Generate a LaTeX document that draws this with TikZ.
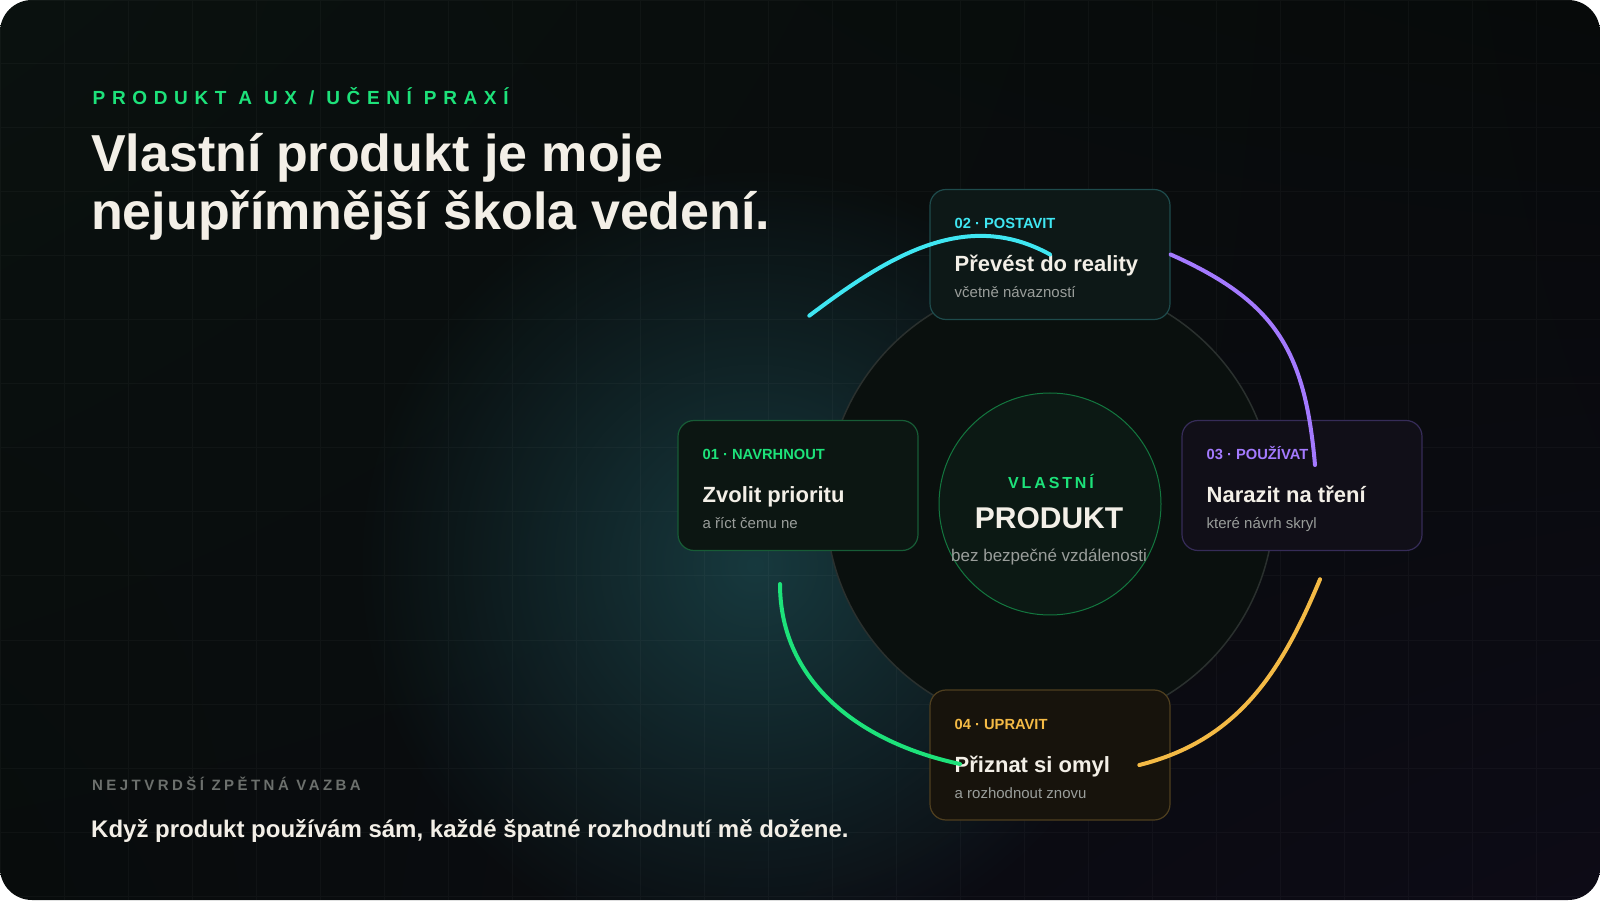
\documentclass[tikz,border=0pt]{standalone}
\usepackage{fontspec}
\setmainfont{Liberation Sans}
\newfontfamily\kickerfont{Liberation Sans}[LetterSpace=35]
\newfontfamily\footkickfont{Liberation Sans}[LetterSpace=23]
\newfontfamily\corekickfont{Liberation Sans}[LetterSpace=18]
\usetikzlibrary{fadings,shadings}

\definecolor{bgtl}{HTML}{0A110F}
\definecolor{bgtr}{HTML}{070A0A}
\definecolor{bgbl}{HTML}{080C0C}
\definecolor{bgbr}{HTML}{0D0B16}
\definecolor{glowc}{HTML}{17393E}
\definecolor{ringfill}{HTML}{0A100E}
\definecolor{ringline}{HTML}{2A302E}
\definecolor{corefill}{HTML}{0C1914}
\definecolor{coreline}{HTML}{13773F}
\definecolor{mint}{HTML}{1DE27A}
\definecolor{aqua}{HTML}{3FE6F2}
\definecolor{lilac}{HTML}{A47AFF}
\definecolor{amber}{HTML}{F4BA45}
\definecolor{cream}{HTML}{F3EFE7}
\definecolor{mute}{HTML}{9A9E9B}
\definecolor{dim}{HTML}{6C706D}
\definecolor{navfill}{HTML}{0C1612}
\definecolor{navline}{HTML}{175C36}
\definecolor{posfill}{HTML}{0D1817}
\definecolor{posline}{HTML}{1E4B4C}
\definecolor{poufill}{HTML}{110F18}
\definecolor{pouline}{HTML}{362C58}
\definecolor{uprfill}{HTML}{17130C}
\definecolor{uprline}{HTML}{4F3F1F}

\tikzfading[name=glowfade, inner color=transparent!0, outer color=transparent!100]

\tikzset{
  txt/.style={inner sep=0, anchor=base west},
  card/.style={draw, rounded corners=16, line width=1.2, minimum width=240, minimum height=130, inner sep=0},
  tag/.style={txt, font=\fontsize{14.7}{17}\selectfont\bfseries},
  head/.style={txt, text=cream, font=\fontsize{22}{26}\selectfont\bfseries},
  sub/.style={txt, text=mute, font=\fontsize{15}{18}\selectfont},
  swoop/.style={line width=4, line cap=round},
  gridline/.style={white, opacity=0.03, line width=1}
}

\begin{document}
\begin{tikzpicture}[x=1pt,y=1pt]
\useasboundingbox (0,0) rectangle (1600,900);

% backdrop
\begin{scope}
\clip[rounded corners=32] (0,0) rectangle (1600,900);
\shade[upper left=bgtl, upper right=bgtr, lower left=bgbl, lower right=bgbr] (0,0) rectangle (1600,900);
\fill[glowc, path fading=glowfade] (755,335) circle (400);
\draw[gridline, step=64, yshift=4] (0,-4) grid (1600,896);
\end{scope}

% left texts
\node [txt, text=mint, font=\kickerfont\fontsize{19}{22}\selectfont\bfseries] (kick) at (92.5,795.7) {PRODUKT A UX / UČENÍ PRAXÍ};
\node [txt, text=cream, font=\fontsize{52}{57}\selectfont\bfseries] (t1) at (91,728.3) {Vlastní produkt je moje};
\node [txt, text=cream, font=\fontsize{52}{57}\selectfont\bfseries] (t2) at (91,670) {nejupřímnější škola vedení.};
\node [txt, text=dim, font=\footkickfont\fontsize{15}{18}\selectfont\bfseries] (fk) at (92,110) {NEJTVRDŠÍ ZPĚTNÁ VAZBA};
\node [txt, text=cream, font=\fontsize{24}{28}\selectfont\bfseries] (ft) at (91,63) {Když produkt používám sám, každé špatné rozhodnutí mě dožene.};

% rings
\node [circle, draw=ringline, fill=ringfill, line width=1.5, minimum size=448, inner sep=0] (ring) at (1050,396) {};
\node [circle, draw=coreline, fill=corefill, line width=1, minimum size=222, inner sep=0] (core) at (1050,396) {};

\node [inner sep=0, anchor=base, text=mint, font=\corekickfont\fontsize{16}{19}\selectfont\bfseries] (corek) at (1051,411.7) {VLASTNÍ};
\node [inner sep=0, anchor=base, text=cream, font=\fontsize{30}{34}\selectfont\bfseries] (coreb) at (1049,371.7) {PRODUKT};
\node [inner sep=0, anchor=base, text=mute, font=\fontsize{17}{20}\selectfont] (cores) at (1049,338.3) {bez bezpečné vzdálenosti};

% cards
\node [card, draw=navline, fill=navfill] (nav) at (798,414.5) {};
\node [card, draw=posline, fill=posfill] (pos) at (1050,645.5) {};
\node [card, draw=pouline, fill=poufill] (pou) at (1302,414.5) {};
\node [card, draw=uprline, fill=uprfill] (upr) at (1050,145) {};

\node [tag, text=mint] (navtag) at (702.5,440.2) {01 · NAVRHNOUT};
\node [head] (navhead) at (702.5,397.5) {Zvolit prioritu};
\node [sub] (navsub) at (702.5,371.2) {a říct čemu ne};

\node [tag, text=aqua] (postag) at (954.5,671.2) {02 · POSTAVIT};
\node [head] (poshead) at (954.5,628.5) {Převést do reality};
\node [sub] (possub) at (954.5,602.2) {včetně návazností};

\node [tag, text=lilac] (poutag) at (1206.5,440.2) {03 · POUŽÍVAT};
\node [head] (pouhead) at (1206.5,397.5) {Narazit na tření};
\node [sub] (pousub) at (1206.5,371.2) {které návrh skryl};

\node [tag, text=amber] (uprtag) at (954.5,170.7) {04 · UPRAVIT};
\node [head] (uprhead) at (954.5,128) {Přiznat si omyl};
\node [sub] (uprsub) at (954.5,101.7) {a rozhodnout znovu};

% swoops
\coordinate (cys) at (809.3,584.3);
\coordinate (pue) at (1315,435);
\coordinate (ams) at (1320,320.7);
\coordinate (ame) at (1139.3,135);
\coordinate (grs) at (780,316);
\coordinate (gre) at (960,136);

\draw[swoop, aqua] (cys) to[out=37,in=151] (pos.center);
\draw[swoop, lilac] (pos.east) to[out=-24,in=95,looseness=1.15] (pue);
\draw[swoop, amber] (ams) to[out=-112.6,in=14] (ame);
\draw[swoop, mint] (grs) to[out=-90,in=168] (gre);

\end{tikzpicture}
\end{document}
